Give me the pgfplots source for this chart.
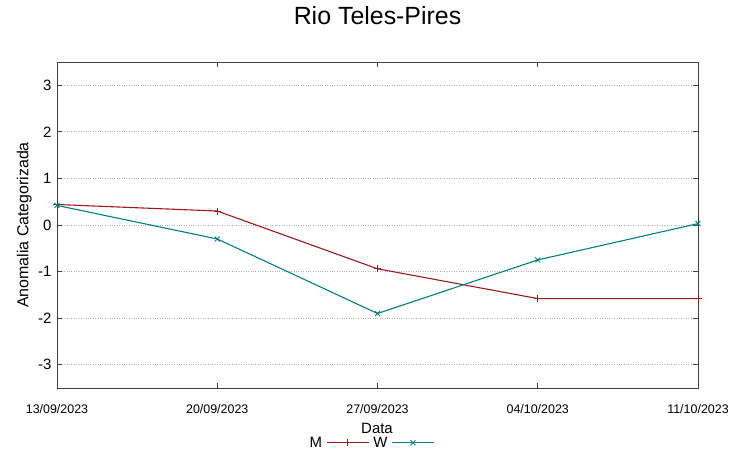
\documentclass[border=0pt]{standalone}
\usepackage{fontspec}
\setmainfont{Liberation Sans}
\usepackage{pgfplots}
\pgfplotsset{compat=1.18}
\definecolor{cM}{RGB}{160,24,30}
\definecolor{cW}{RGB}{0,128,128}
\begin{document}
\begin{tikzpicture}
\useasboundingbox (0,0) rectangle (752bp,458bp);
\begin{axis}[
  at={(57bp,70bp)}, anchor=south west,
  scale only axis, width=641bp, height=326bp,
  xmin=0, xmax=4, ymin=-3.5, ymax=3.5,
  xtick={0,1,2,3,4},
  xticklabels={13/09/2023,20/09/2023,27/09/2023,04/10/2023,11/10/2023},
  ytick={-3,-2,-1,0,1,2,3},
  /pgf/number format/assume math mode=true,
  ymajorgrids, grid style={dotted, black!30, line width=0.9pt},
  tick align=inside, major tick length=5bp,
  tick style={black!75, line width=0.8pt},
  axis line style={draw=black!75, line width=0.9pt},
  xticklabel style={font=\fontsize{12.5}{14}\selectfont, yshift=-13bp},
  yticklabel style={font=\fontsize{15}{17}\selectfont, xshift=-2bp},
  title={Rio Teles-Pires},
  title style={font=\fontsize{25}{28}\selectfont, at={(axis description cs:0.5,1.1227)}, anchor=center},
  xlabel={Data},
  xlabel style={font=\fontsize{15}{17}\selectfont, at={(axis description cs:0.4992,-0.1227)}, anchor=center},
  ylabel={Anomalia Categorizada},
  ylabel style={font=\fontsize{16}{18}\selectfont, at={(axis description cs:-0.051,0.5)}, anchor=center},
  legend plot pos=right,
  legend columns=2,
  legend style={draw=none, fill=none, font=\fontsize{15}{17}\selectfont,
    at={(axis description cs:0.49,-0.168)}, anchor=center,
    column sep=2bp, inner sep=0pt},
  legend image code/.code={\draw[mark repeat=2,mark phase=2,#1] plot coordinates {(0bp,0bp) (21bp,0bp) (42bp,0bp)};},
  clip=false,
]
\addplot[cM, line width=1.1pt, mark=+, mark size=3.5bp, mark options={line width=0.9pt}] coordinates {
  (0,0.44) (1,0.30) (2,-0.94) (3,-1.58) (4,-1.58)
};
\addlegendentry{M}
\addplot[cW, line width=1.1pt, mark=x, mark size=3.5bp, mark options={line width=0.9pt}] coordinates {
  (0,0.42) (1,-0.30) (2,-1.90) (3,-0.75) (4,0.03)
};
\addlegendentry{W}
\end{axis}
\end{tikzpicture}
\end{document}
